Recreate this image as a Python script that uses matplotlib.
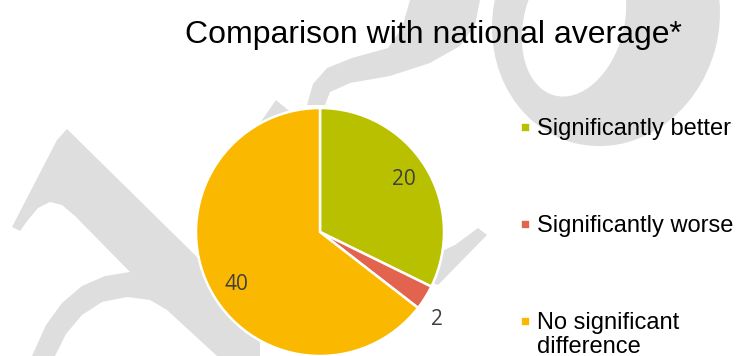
import matplotlib.pyplot as plt
from matplotlib.patches import Polygon, Ellipse, Rectangle
import numpy as np

title = "Comparison with national average*"
categories = ["Significantly better", "Significantly worse", "No significant\ndifference"]
counts = [20, 2, 40]
colors = ["#b8c000", "#e2644f", "#fbb800"]

W, H = 736, 356
fig = plt.figure(figsize=(W / 100, H / 100), dpi=100)

# light grey watermark behind everything (pixel coords, y down)
bg = fig.add_axes([0, 0, 1, 1], zorder=-1)
bg.set_xlim(0, W)
bg.set_ylim(H, 0)
bg.axis("off")
grey = "#dedede"
shapes = [
    [(12, 227), (20, 231), (28, 220), (38, 208), (50, 202), (62, 205), (75, 216),
     (130, 272), (105, 276), (82, 286), (62, 303), (46, 325), (32, 356), (55, 356),
     (66, 334), (82, 315), (102, 302), (127, 297), (150, 300), (167, 310), (217, 356),
     (260, 356), (260, 320), (195, 255), (67, 129), (57, 140)],
    [(410, 0), (402, 28), (388, 48), (352, 58), (327, 68), (313, 84), (307, 105),
     (325, 105), (330, 92), (350, 83), (390, 76), (430, 63), (460, 46), (475, 25), (480, 0)],
    [(255, 130), (276, 100), (300, 120)],
    [(478, 228), (487, 235), (438, 285), (425, 280), (440, 252), (455, 245)],
]
for pts in shapes:
    bg.add_patch(Polygon(pts, closed=True, fc=grey, ec="none"))
bg.add_patch(Ellipse((606, 20), 226, 254, angle=15, fc=grey, ec="none"))
bg.add_patch(Ellipse((574, 22), 100, 152, angle=15, fc="white", ec="none"))

# pie
ax = fig.add_axes([196 / W, 0, 248 / W, 248 / H])
total = sum(counts)
wedges, texts, autotexts = ax.pie(
    counts, colors=colors, startangle=90, counterclock=False,
    autopct=lambda p: f"{p * total / 100:.0f}", pctdistance=0.8,
    wedgeprops=dict(edgecolor="white", linewidth=1.8),
    textprops=dict(color="#404040", fontsize=15, family="Open Sans"))
for w, t, c in zip(wedges, autotexts, counts):
    if c / total < 0.05:
        ang = np.deg2rad((w.theta1 + w.theta2) / 2 - 5)
        t.set_position((1.18 * np.cos(ang), 1.18 * np.sin(ang)))
    elif c / total > 0.5:
        ang = np.deg2rad((w.theta1 + w.theta2) / 2 + 6)
        t.set_position((0.8 * np.cos(ang), 0.8 * np.sin(ang)))
ax.set_xlim(-1, 1)
ax.set_ylim(-1, 1)

# title and legend on an overlay in pixel coords
ov = fig.add_axes([0, 0, 1, 1], zorder=3)
ov.set_xlim(0, W)
ov.set_ylim(H, 0)
ov.axis("off")
ov.text(433, 43, title, ha="center", va="baseline",
        fontsize=23, family="Liberation Sans", color="black")
for i, (lab, col) in enumerate(zip(categories, colors)):
    y = 127 + i * 97
    ov.add_patch(Rectangle((520.5, y - 4.5), 9, 9, fc=col, ec="white", lw=1.2))
    for j, line in enumerate(lab.split("\n")):
        ov.text(537, y + 8 + j * 24, line, ha="left", va="baseline", fontsize=17,
                family="Liberation Sans", color="black")

fig.savefig("out.png", dpi=100)
